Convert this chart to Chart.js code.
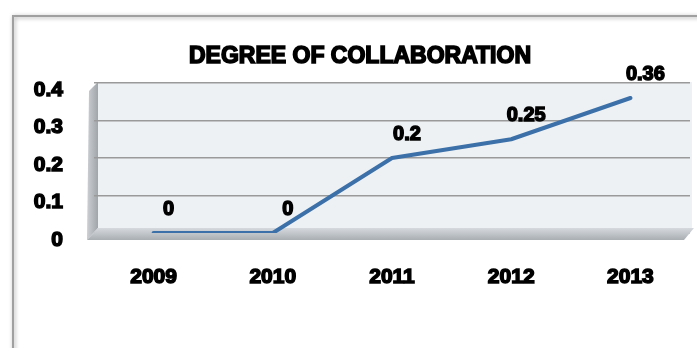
<!DOCTYPE html>
<html>
<head>
<meta charset="utf-8">
<script src="https://cdn.jsdelivr.net/npm/chart.js@4.4.0/dist/chart.umd.min.js"></script>
<style>
  html, body { margin: 0; padding: 0; background: #fff; }
  #wrap { width: 697px; height: 348px; }
</style>
</head>
<body>
<div id="wrap"><canvas id="collabChart"></canvas></div>
<script>
const years = ["2009", "2010", "2011", "2012", "2013"];
const collaboration = [0, 0, 0.2, 0.25, 0.36];
const yTicks = [0, 0.1, 0.2, 0.3, 0.4];
const chartTitle = "DEGREE OF COLLABORATION";

const FONT = "'Liberation Sans', Arial, sans-serif";

// heavy text: fill plus a stroke of the same colour
function boldText(ctx, txt, x, y, w) {
    ctx.fillText(txt, x, y);
    ctx.lineWidth = w;
    ctx.strokeText(txt, x, y);
}

// frame, walls, floor, title and value labels
const wallsPlugin = {
    id: "walls",
    beforeDraw(chart) {
        const ctx = chart.ctx;
        const a = chart.chartArea;
        ctx.save();
        ctx.fillStyle = "#fff";
        ctx.fillRect(0, 0, chart.width, chart.height);

        ctx.shadowColor = "rgba(0,0,0,0.35)";
        ctx.shadowBlur = 4;
        ctx.shadowOffsetX = 1;
        ctx.shadowOffsetY = 1;
        ctx.strokeStyle = "#a0a0a0";
        ctx.lineWidth = 2;
        ctx.strokeRect(13, 16, chart.width + 20, chart.height + 20);
        ctx.shadowColor = "transparent";

        ctx.fillStyle = "#eef1f4";
        ctx.fillRect(a.left + 4, a.top - 1, a.right - a.left - 2, a.bottom - a.top - 4);

        const g = ctx.createLinearGradient(a.left - 6, 0, a.left + 4, 0);
        g.addColorStop(0, "#c8ccd0");
        g.addColorStop(1, "#a0a5aa");
        ctx.fillStyle = g;
        ctx.beginPath();
        ctx.moveTo(a.left - 5, a.top + 8);
        ctx.lineTo(a.left + 4, a.top - 1);
        ctx.lineTo(a.left + 4, a.bottom - 5);
        ctx.lineTo(a.left - 7, a.bottom + 7);
        ctx.closePath();
        ctx.fill();

        ctx.font = "bold 23px " + FONT;
        ctx.textAlign = "center";
        ctx.textBaseline = "middle";
        ctx.fillStyle = "#000";
        ctx.strokeStyle = "#000";
        boldText(ctx, chartTitle, 360, 57, 1.6);
        ctx.restore();
    },
    beforeDatasetsDraw(chart) {
        const ctx = chart.ctx;
        const a = chart.chartArea;
        ctx.save();
        const g = ctx.createLinearGradient(0, a.bottom - 5, 0, a.bottom + 7);
        g.addColorStop(0, "#d6dade");
        g.addColorStop(1, "#a9aeb3");
        ctx.fillStyle = g;
        ctx.beginPath();
        ctx.moveTo(a.left + 4, a.bottom - 5);
        ctx.lineTo(a.right + 4, a.bottom - 5);
        ctx.lineTo(a.right - 6, a.bottom + 7);
        ctx.lineTo(a.left - 7, a.bottom + 7);
        ctx.closePath();
        ctx.fill();
        ctx.restore();
    },
    afterDatasetsDraw(chart) {
        const ctx = chart.ctx;
        const meta = chart.getDatasetMeta(0);
        ctx.save();
        ctx.font = "bold 20px " + FONT;
        ctx.textAlign = "center";
        ctx.textBaseline = "middle";
        ctx.fillStyle = "#000";
        ctx.strokeStyle = "#000";
        meta.data.forEach((pt, i) => {
            boldText(ctx, String(collaboration[i]), pt.x + 15, pt.y - 24, 1.5);
        });
        ctx.restore();
    }
};

new Chart("collabChart", {
    type: "line",
    data: {
        labels: years,
        datasets: [{
            data: collaboration,
            borderColor: "#3b70a8",
            borderWidth: 4,
            borderJoinStyle: "round",
            borderCapStyle: "round",
            pointRadius: 0,
            fill: false,
            tension: 0
        }]
    },
    options: {
        responsive: true,
        maintainAspectRatio: false,
        animation: false,
        layout: { padding: { left: 24, right: 7, top: 83, bottom: 0 } },
        plugins: {
            legend: { display: false },
            tooltip: { enabled: false },
            title: { display: false }
        },
        scales: {
            x: {
                offset: true,
                grid: { display: false, drawTicks: false },
                border: { display: false },
                ticks: {
                    color: "#000",
                    font: { family: FONT, size: 21, weight: "bold" },
                    padding: 32,
                    textStrokeColor: "#000",
                    textStrokeWidth: 1.5,
                    maxRotation: 0
                },
                afterFit: s => { s.height = 115; }
            },
            y: {
                min: 0,
                max: 0.4,
                afterBuildTicks: s => { s.ticks = yTicks.map(v => ({ value: v })); },
                grid: { color: "#9a9a9a", lineWidth: 1.5, drawTicks: false },
                border: { display: false },
                ticks: {
                    color: "#000",
                    font: { family: FONT, size: 21, weight: "bold" },
                    padding: 31,
                    labelOffset: 7,
                    textStrokeColor: "#000",
                    textStrokeWidth: 1.5
                },
                afterFit: s => { s.width = 70; }
            }
        }
    },
    plugins: [wallsPlugin]
});
</script>
</body>
</html>
